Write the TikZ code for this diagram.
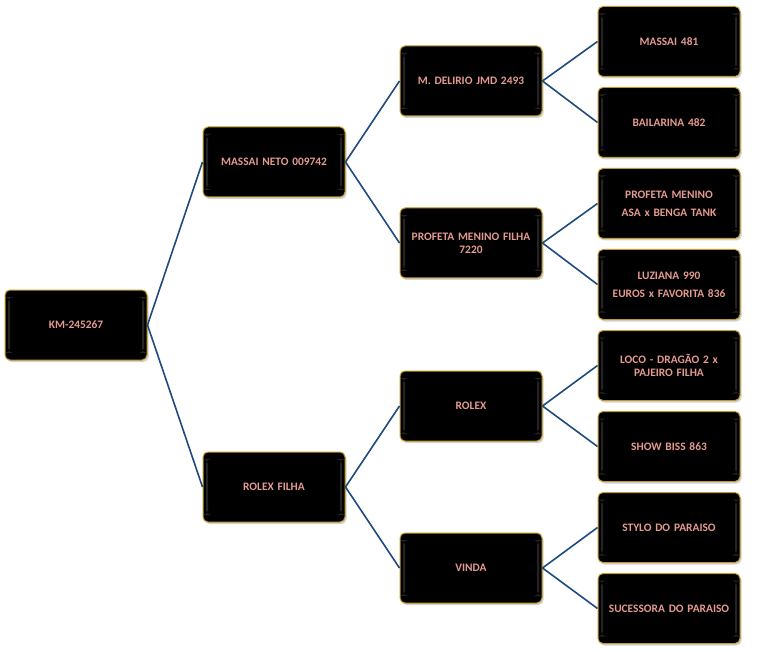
\documentclass[tikz,border=0pt]{standalone}
\usepackage{fontspec}
\setmainfont{Carlito}
\usetikzlibrary{shadows}
\definecolor{boxgold}{HTML}{BF9A2A}
\definecolor{boxtext}{HTML}{E49A90}
\definecolor{linkblue}{HTML}{1F4A7D}
\begin{document}
\begin{tikzpicture}[x=1pt,y=-1pt,
    box/.style={draw=boxgold, line width=1pt, fill=black, rounded corners=5pt,
        minimum width=142pt, minimum height=70pt, text width=134pt, align=center,
        text=boxtext, font=\bfseries\fontsize{11.4}{13}\selectfont,
        drop shadow={opacity=0.35, shadow xshift=1.5pt, shadow yshift=-2pt},
        path picture={
            \fill[white, opacity=0.14]
                ([xshift=3pt, yshift=-7pt]path picture bounding box.north west) rectangle
                ([xshift=5pt, yshift=7pt]path picture bounding box.south west);
            \fill[white, opacity=0.14]
                ([xshift=-5pt, yshift=-7pt]path picture bounding box.north east) rectangle
                ([xshift=-3pt, yshift=7pt]path picture bounding box.south east);
        }},
    link/.style={draw=linkblue, line width=1.6pt}]
    \useasboundingbox (0,0) rectangle (768,652);
    % Root and first generation
    \node[box] (n0) at (76,325) {KM-245267};
    \node[box] (n1a) at (274,162) {MASSAI NETO 009742};
    \node[box] (n1b) at (274,487) {ROLEX FILHA};
    % Second generation
    \node[box] (n2a) at (471,81) {M. DELIRIO JMD 2493};
    \node[box] (n2b) at (471,243) {PROFETA MENINO FILHA\\7220};
    \node[box] (n2c) at (471,406) {ROLEX};
    \node[box] (n2d) at (471,568) {VINDA};
    % Third generation
    \foreach \txt [count=\i] in {MASSAI 481, BAILARINA 482,
        {PROFETA MENINO\\[5pt]ASA x BENGA TANK}, {LUZIANA 990\\[5pt]EUROS x FAVORITA 836},
        {LOCO - DRAGÃO 2 x\\PAJEIRO FILHA}, SHOW BISS 863,
        STYLO DO PARAISO, SUCESSORA DO PARAISO} {
        \node[box] (n3\i) at (669,{41.5+81*(\i-1)}) {\txt};
    }
    % Links
    \foreach \p/\c in {n0/n1a, n0/n1b, n1a/n2a, n1a/n2b, n1b/n2c, n1b/n2d,
        n2a/n31, n2a/n32, n2b/n33, n2b/n34, n2c/n35, n2c/n36, n2d/n37, n2d/n38} {
        \draw[link] (\p.east) -- (\c.west);
    }
\end{tikzpicture}
\end{document}
